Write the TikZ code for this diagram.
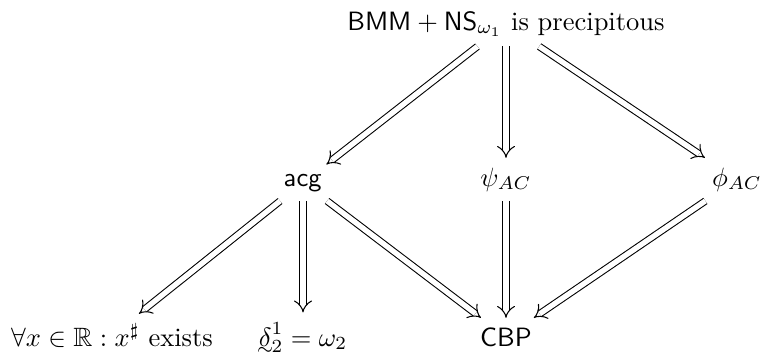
\documentclass[tikz,border=0pt]{standalone}
\usepackage{amsmath,amssymb}
\usetikzlibrary{arrows.meta}
% delta with a tilde underneath (projective ordinal notation)
\newcommand{\tdelta}{\mathord{\mbox{\ooalign{$\delta$\cr\hidewidth\smash{\raisebox{-0.75ex}{$\scriptstyle\sim$}}\hidewidth\cr}}}}
\begin{document}
\begin{tikzpicture}[x=0.3774pt,y=-0.3774pt,
  lbl/.style={inner sep=3.5pt, anchor=base},
  imp/.style={double, double distance=2pt, line width=0.4pt, -{Implies}}]
\useasboundingbox (0,0) rectangle (765,354);

% statements
\node[lbl] (top)   at (506,30)  {$\mathsf{BMM}+\mathsf{NS}_{\omega_1}$ is precipitous};
\node[lbl] (acg)   at (303,186) {$\mathsf{acg}$};
\node[lbl] (psi)   at (506,186) {$\psi_{AC}$};
\node[lbl] (phi)   at (737,186) {$\phi_{AC}$};
\node[lbl] (real)  at (112,346) {$\forall x\in\mathbb{R}:x^\sharp$ exists};
\node[lbl] (delta) at (303,346) {$\tdelta^1_2=\omega_2$};
\node[lbl] (cbp)   at (506,346) {$\mathsf{CBP}$};

% implications
\draw[imp] (top) -- (acg);
\draw[imp] (top) -- (psi);
\draw[imp] (top) -- (phi);
\draw[imp] (acg) -- (real);
\draw[imp] (acg) -- (delta);
\draw[imp] (acg) -- (cbp);
\draw[imp] (psi) -- (cbp);
\draw[imp] (phi) -- (cbp);
\end{tikzpicture}
\end{document}
